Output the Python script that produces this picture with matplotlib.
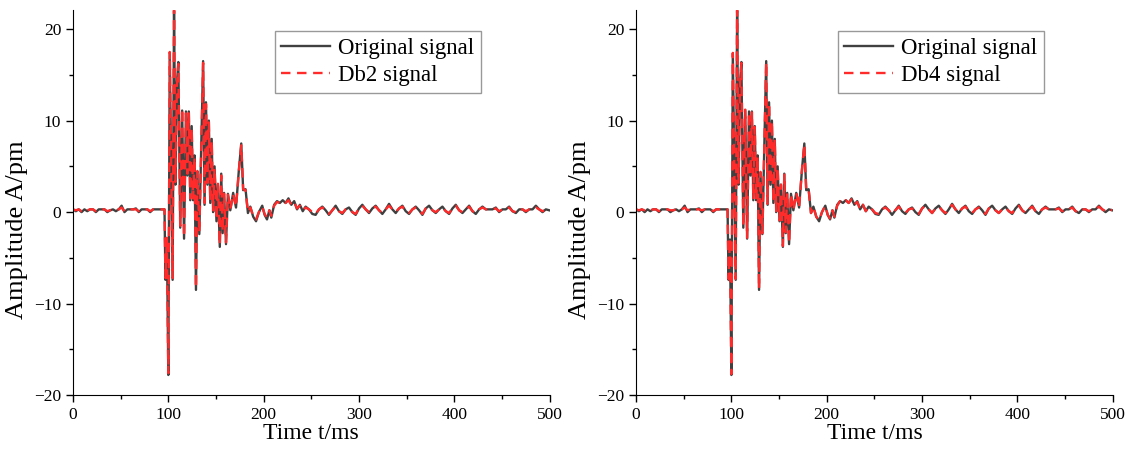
import matplotlib.pyplot as plt
from matplotlib.ticker import MultipleLocator

# time axis (ms), split in three parts: quiet, burst, tail
t_pre = [0, 3, 6, 9, 12, 15, 18, 21, 24, 27, 30, 33, 36, 39, 42, 45, 48, 51, 54, 57,
         60, 63, 66, 69, 72, 75, 78, 81, 84, 87, 90, 93, 96]
t_burst = [97, 98.5, 100, 101.5, 103, 104.5, 106, 107.5, 109, 110.5,
           112.5, 114.5, 116.5, 118.5, 120, 121.5, 123, 124.5, 126, 127.5,
           129, 130.5, 132.5, 134.5, 136.5, 138, 139.5, 141, 142.5, 144,
           145.5, 147, 148.5, 150.5, 152, 154, 155.5, 157, 158.5, 160.5,
           162.5, 165, 168, 171, 174, 176.5, 178.5, 181, 183.5, 186,
           189, 192, 195, 198.5, 201, 203.5, 206, 208, 211, 214,
           217, 220, 223, 226, 229, 232, 235, 238, 241, 244]
t_tail = [247.5, 251, 254.5, 258, 261.5, 265, 268.5, 272, 275.5, 279,
          282.5, 286, 289.5, 293, 296.5, 300, 303.5, 307, 310.5, 314,
          317.5, 321, 324.5, 328, 331.5, 335, 338.5, 342, 345.5, 349,
          352.5, 356, 359.5, 363, 366.5, 370, 373.5, 377, 380.5, 384,
          387.5, 391, 394.5, 398, 401.5, 405, 408.5, 412, 415.5, 419,
          422.5, 426, 429.5, 433, 436.5, 440, 443.5, 447, 450.5, 454,
          457.5, 461, 464.5, 468, 471.5, 475, 478.5, 482, 485.5, 489,
          492.5, 496, 499.5]

# original signal (pm)
orig_pre = [0.3, 0.1, 0.3, 0.0, 0.3, 0.1, 0.3, 0.3, 0.0, 0.3,
            0.3, 0.3, 0.0, 0.2, 0.3, 0.1, 0.3, 0.7, 0.0, 0.3,
            0.3, 0.3, 0.4, 0.0, 0.3, 0.3, 0.3, 0.0, 0.3, 0.3,
            0.3, 0.3, 0.3]
orig_burst = [-7.4, -3.0, -17.8, 17.3, 5.0, -7.4, 22.0, 3.0, 14.0, 16.4,
              -1.7, 11.1, -2.9, 11.0, 4.0, 11.0, 1.3, 9.4, 1.3, 6.2,
              -8.5, 4.3, -2.4, 6.9, 16.5, 0.8, 12.0, 3.0, 10.0, 1.0,
              8.0, 0.0, 5.0, -1.0, 3.0, -3.8, 4.2, -2.3, 2.1, -3.5,
              2.0, 0.2, 2.1, 0.5, 4.6, 7.5, 2.4, 2.5, -0.1, 0.6,
              -0.5, -1.0, 0.0, 0.7, -0.3, -0.8, 0.2, -0.6, 0.8, 1.2,
              1.0, 1.3, 1.0, 1.5, 0.8, 1.2, 0.3, 0.8, 0.1, 0.6]
orig_tail = [0.3, -0.2, -0.3, 0.3, 0.6, 0.2, -0.3, 0.2, 0.7, 0.1,
             -0.2, 0.3, 0.5, 0.0, -0.3, 0.4, 0.8, 0.3, -0.1, 0.4,
             0.7, 0.2, -0.2, 0.3, 0.9, 0.3, -0.1, 0.4, 0.7, 0.1,
             -0.2, 0.3, 0.6, 0.2, -0.3, 0.4, 0.7, 0.2, -0.1, 0.3,
             0.6, 0.1, -0.2, 0.4, 0.8, 0.2, -0.1, 0.3, 0.7, 0.1,
             -0.2, 0.3, 0.6, 0.3, 0.3, 0.3, 0.5, 0.0, 0.3, 0.3,
             0.6, 0.1, -0.1, 0.3, 0.3, 0.0, 0.3, 0.3, 0.7, 0.3,
             0.0, 0.3, 0.2]

# Db2 denoised signal
db2_pre = [0.3, 0.2, 0.3, 0.1, 0.3, 0.2, 0.3, 0.3, 0.1, 0.3,
           0.3, 0.3, 0.1, 0.2, 0.3, 0.2, 0.3, 0.5, 0.1, 0.3,
           0.3, 0.3, 0.3, 0.1, 0.3, 0.3, 0.3, 0.1, 0.3, 0.3,
           0.3, 0.3, 0.3]
db2_burst = [-7.2, -2.8, -17.6, 17.5, 5.2, -7.2, 22.2, 3.3, 13.8, 16.2,
             -1.5, 11.3, -2.7, 10.8, 4.2, 10.8, 1.5, 9.2, 1.5, 6.0,
             -8.3, 4.5, -2.2, 6.7, 16.3, 1.0, 11.8, 3.2, 9.8, 1.2,
             7.8, 0.2, 4.8, -0.8, 3.1, -3.6, 4.0, -2.1, 2.0, -3.3,
             1.9, 0.3, 2.0, 0.6, 4.5, 7.3, 2.5, 2.4, 0.0, 0.5,
             -0.4, -0.8, 0.0, 0.6, -0.2, -0.6, 0.2, -0.4, 0.7, 1.1,
             1.0, 1.2, 1.0, 1.3, 0.8, 1.1, 0.4, 0.7, 0.2, 0.5]
db2_tail = [0.3, 0.0, -0.2, 0.3, 0.5, 0.2, -0.2, 0.2, 0.6, 0.1,
            -0.1, 0.3, 0.4, 0.0, -0.2, 0.4, 0.7, 0.3, 0.0, 0.4,
            0.6, 0.2, -0.1, 0.3, 0.7, 0.3, 0.0, 0.4, 0.6, 0.1,
            -0.1, 0.3, 0.5, 0.2, -0.2, 0.4, 0.6, 0.2, 0.0, 0.3,
            0.5, 0.1, -0.1, 0.4, 0.7, 0.2, 0.0, 0.3, 0.6, 0.1,
            -0.1, 0.3, 0.5, 0.3, 0.3, 0.3, 0.4, 0.1, 0.3, 0.3,
            0.5, 0.1, 0.0, 0.3, 0.3, 0.1, 0.3, 0.3, 0.5, 0.3,
            0.1, 0.3, 0.2]

# Db4 denoised signal
db4_pre = [0.3, 0.2, 0.3, 0.2, 0.3, 0.2, 0.3, 0.3, 0.1, 0.3,
           0.3, 0.3, 0.2, 0.2, 0.3, 0.2, 0.3, 0.5, 0.2, 0.3,
           0.3, 0.3, 0.3, 0.2, 0.3, 0.3, 0.3, 0.1, 0.3, 0.3,
           0.3, 0.3, 0.3]
db4_burst = [-7.3, -2.9, -17.7, 17.4, 5.1, -7.3, 22.1, 3.1, 13.9, 16.3,
             -1.6, 11.2, -2.8, 10.9, 4.1, 10.9, 1.4, 9.3, 1.4, 6.1,
             -8.4, 4.4, -2.3, 6.8, 16.4, 0.9, 11.9, 3.1, 9.9, 1.1,
             7.9, 0.1, 4.9, -0.9, 3.0, -3.7, 4.1, -2.2, 2.1, -3.4,
             2.0, 0.2, 2.1, 0.5, 4.6, 7.4, 2.4, 2.5, -0.1, 0.6,
             -0.5, -0.9, 0.0, 0.7, -0.3, -0.7, 0.2, -0.5, 0.7, 1.2,
             1.0, 1.3, 1.0, 1.4, 0.8, 1.1, 0.3, 0.8, 0.1, 0.6]
db4_tail = [0.3, -0.1, -0.2, 0.3, 0.5, 0.2, -0.2, 0.2, 0.6, 0.1,
            -0.1, 0.3, 0.4, 0.0, -0.2, 0.4, 0.7, 0.3, -0.1, 0.4,
            0.6, 0.2, -0.1, 0.3, 0.8, 0.3, -0.1, 0.4, 0.6, 0.1,
            -0.1, 0.3, 0.5, 0.2, -0.2, 0.4, 0.6, 0.2, -0.1, 0.3,
            0.5, 0.1, -0.1, 0.4, 0.7, 0.2, -0.1, 0.3, 0.6, 0.1,
            -0.1, 0.3, 0.5, 0.3, 0.3, 0.3, 0.4, 0.1, 0.3, 0.3,
            0.5, 0.1, 0.0, 0.3, 0.3, 0.1, 0.3, 0.3, 0.6, 0.3,
            0.1, 0.3, 0.2]

t = t_pre + t_burst + t_tail
original = orig_pre + orig_burst + orig_tail
db2 = db2_pre + db2_burst + db2_tail
db4 = db4_pre + db4_burst + db4_tail

plt.rcParams['font.family'] = 'Liberation Serif'

fig = plt.figure(figsize=(11.35, 4.49), dpi=100)
ax1 = fig.add_axes([0.0643, 0.120, 0.420, 0.858])
ax2 = fig.add_axes([0.5604, 0.120, 0.420, 0.858])

for ax, den, name in [(ax1, db2, "Db2 signal"), (ax2, db4, "Db4 signal")]:
    ax.plot(t, original, color='#404040', lw=1.7, label="Original signal")
    ax.plot(t, den, color='#ff2a2a', lw=1.7, dashes=(4, 2.8), label=name)
    ax.set_xlim(0, 500)
    ax.set_ylim(-20, 22.1)
    ax.xaxis.set_major_locator(MultipleLocator(100))
    ax.xaxis.set_minor_locator(MultipleLocator(50))
    ax.yaxis.set_major_locator(MultipleLocator(10))
    ax.yaxis.set_minor_locator(MultipleLocator(5))
    ax.spines['top'].set_visible(False)
    ax.spines['right'].set_visible(False)
    ax.tick_params(which='major', direction='out', length=5, width=1, labelsize=12.5)
    ax.tick_params(which='minor', direction='out', length=3, width=1)
    ax.set_xlabel("Time t/ms", fontsize=17, labelpad=0)
    ax.set_ylabel("Amplitude A/pm", fontsize=19)
    ax.yaxis.set_label_coords(-0.094, 0.43)
    leg = ax.legend(loc='upper right', bbox_to_anchor=(0.855, 0.945), fontsize=16.5,
                    fancybox=False, edgecolor='#999999', framealpha=1,
                    handlelength=2.1, handletextpad=0.35, borderpad=0.3,
                    labelspacing=0.25, borderaxespad=0)
    leg.get_frame().set_linewidth(1.0)

plt.savefig("out.png", dpi=100)
